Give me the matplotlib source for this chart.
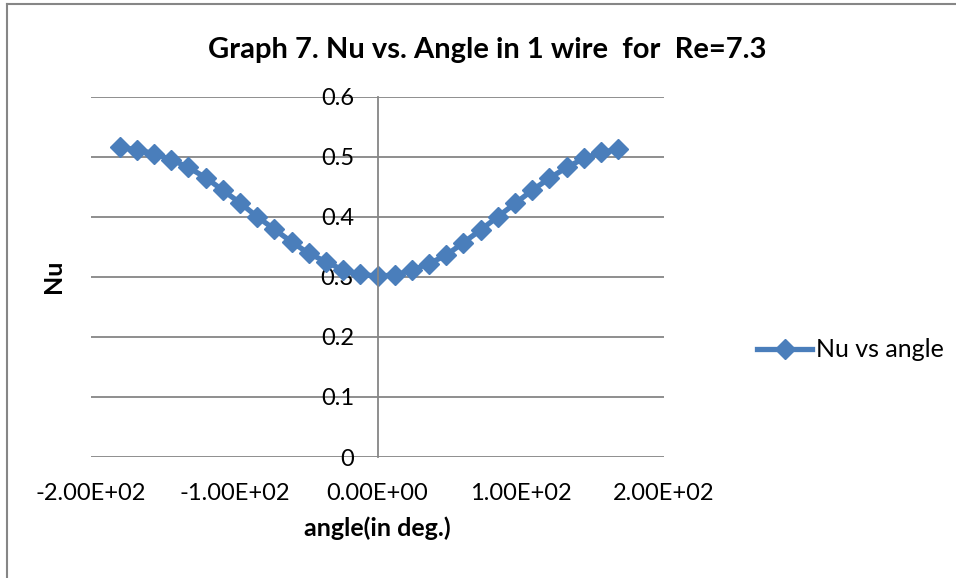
import matplotlib
matplotlib.use("Agg")
import matplotlib.pyplot as plt
from matplotlib.lines import Line2D
from matplotlib.ticker import FuncFormatter

angles = [-180, -168, -156, -144, -132, -120, -108, -96, -84, -72, -60, -48, -36, -24, -12,
          0, 12, 24, 36, 48, 60, 72, 84, 96, 108, 120, 132, 144, 156, 168]
nu = [0.516, 0.511, 0.505, 0.495, 0.482, 0.465, 0.444, 0.423, 0.400, 0.379, 0.358, 0.339, 0.325, 0.311, 0.304,
      0.301, 0.303, 0.311, 0.322, 0.336, 0.357, 0.378, 0.400, 0.422, 0.444, 0.464, 0.482, 0.497, 0.507, 0.512]
x_ticks = [-200, -100, 0, 100, 200]
y_ticks = [0, 0.1, 0.2, 0.3, 0.4, 0.5, 0.6]

title = "Graph 7. Nu vs. Angle in 1 wire  for  Re=7.3"
series_name = "Nu vs angle"
blue = "#4A7EBB"
grid_c = "#868686"

plt.rcParams['font.family'] = ['Lato', 'DejaVu Sans']

fig = plt.figure(figsize=(9.56, 5.78), dpi=100)
ax = fig.add_axes([0.0952, 0.2093, 0.5994, 0.6237])

ax.plot(angles, nu, color=blue, lw=3.8, marker='D', ms=10, mec=blue, mfc=blue,
        label=series_name, solid_joinstyle='round')

ax.set_xlim(-200, 200)
ax.set_ylim(0, 0.6)
ax.set_xticks(x_ticks)
ax.set_yticks(y_ticks)
ax.xaxis.set_major_formatter(FuncFormatter(lambda v, p: "%.2E" % v))
ax.yaxis.set_major_formatter(FuncFormatter(lambda v, p: ("%g" % v)))

for s in ['top', 'right', 'bottom']:
    ax.spines[s].set_visible(False)
ax.spines['left'].set_position(('data', 0))
ax.spines['left'].set_color(grid_c)
ax.spines['left'].set_linewidth(1.3)
ax.yaxis.grid(True, color=grid_c, lw=1.3)
ax.set_axisbelow(True)
ax.tick_params(axis='y', length=0, pad=17, labelsize=17)
ax.tick_params(axis='x', length=0, pad=19, labelsize=17)

ax.set_xlabel("angle(in deg.)", fontsize=18, fontweight='bold', labelpad=9)
ax.set_ylabel("Nu", fontsize=18, fontweight='bold')
ax.yaxis.set_label_coords(-0.045, 0.5)
fig.text(0.51, 1 - 58 / 578, title, fontsize=21, fontweight='bold', ha='center', va='baseline')

leg = fig.legend(handles=ax.get_lines(), loc='center left', bbox_to_anchor=(0.792, 0.3945),
                 frameon=False, fontsize=18, handlelength=2.2, handletextpad=0.15,
                 borderpad=0, borderaxespad=0)

fig.add_artist(Line2D([0.0068, 0.0068], [0, 0.993], color=grid_c, lw=1.5, transform=fig.transFigure))
fig.add_artist(Line2D([0.0068, 1.0], [0.993, 0.993], color=grid_c, lw=1.5, transform=fig.transFigure))

fig.savefig("out.png", dpi=100)
